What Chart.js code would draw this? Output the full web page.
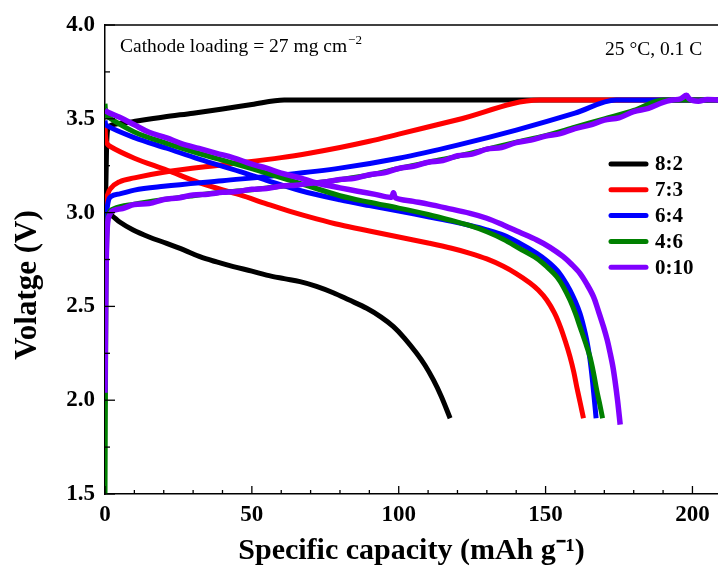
<!DOCTYPE html>
<html>
<head>
<meta charset="utf-8">
<script src="https://cdn.jsdelivr.net/npm/chart.js@4.4.1/dist/chart.umd.min.js"></script>
<style>
  html, body { margin: 0; padding: 0; background: #fff; }
  #wrap { width: 718px; height: 569px; position: relative; }
</style>
</head>
<body>
<div id="wrap"><canvas id="chart"></canvas></div>
<script>
// capacity (mAh/g) and voltage (V), charge (C) and discharge (D) for each ratio
const cap82C = [0, 0.3, 0.6, 1.2, 2.3, 9.5, 20, 30, 40, 50, 61, 209];
const v82C   = [2.95, 3.15, 3.38, 3.455, 3.467, 3.485, 3.51, 3.53, 3.552, 3.576, 3.60, 3.60];
const cap82D = [0, 0.5, 2.3, 5, 9.6, 15, 21, 27, 32.3, 38, 43.7, 50, 55, 61, 66.4, 72, 77.7, 83, 89.1, 94, 98.2, 102, 106.1, 109, 111.8, 114.5, 117.5];
const v82D   = [3.02, 3.0, 2.985, 2.95, 2.907, 2.87, 2.836, 2.80, 2.765, 2.737, 2.712, 2.688, 2.667, 2.648, 2.632, 2.607, 2.573, 2.535, 2.49, 2.443, 2.392, 2.33, 2.25, 2.185, 2.108, 2.02, 1.904];

const cap73C = [0, 0.4, 1, 2, 5, 10, 20, 40, 60, 70, 80, 90, 100, 120, 148, 209];
const v73C   = [2.9, 3.05, 3.10, 3.13, 3.165, 3.185, 3.215, 3.255, 3.293, 3.318, 3.347, 3.38, 3.418, 3.495, 3.60, 3.60];
const cap73D = [0, 0.4, 1.5, 10, 21, 32, 46, 55, 63, 72, 80, 90, 100, 110, 118, 124.3, 130, 135.6, 140, 144.7, 147.5, 150.4, 153, 155, 156.8, 158.3, 159.6, 160.6, 161.8, 162.9];
const v73D   = [3.47, 3.38, 3.355, 3.29, 3.227, 3.16, 3.094, 3.047, 3.007, 2.967, 2.935, 2.902, 2.87, 2.838, 2.81, 2.783, 2.753, 2.714, 2.675, 2.625, 2.587, 2.534, 2.465, 2.392, 2.31, 2.232, 2.15, 2.072, 1.985, 1.904];

const cap64C = [0, 0.4, 1, 2, 5, 10, 20, 40, 60, 80, 100, 120, 140, 160, 174, 209];
const v64C   = [2.7, 2.95, 3.05, 3.085, 3.10, 3.12, 3.14, 3.17, 3.20, 3.237, 3.29, 3.36, 3.44, 3.53, 3.60, 3.60];
const cap64D = [0, 0.5, 10, 21, 32, 46, 55, 66.4, 80, 90, 100, 110, 118, 124.3, 130, 135.6, 141, 147, 150.5, 153.8, 156.2, 158.3, 160.1, 161.7, 163, 164, 165, 165.7, 166.5, 167.2];
const v64D   = [3.49, 3.465, 3.40, 3.343, 3.285, 3.218, 3.172, 3.118, 3.068, 3.037, 3.008, 2.978, 2.953, 2.931, 2.908, 2.88, 2.838, 2.783, 2.742, 2.694, 2.643, 2.587, 2.527, 2.463, 2.39, 2.321, 2.23, 2.143, 2.02, 1.904];

const cap46C = [0, 0.3, 0.7, 1.5, 3, 10, 20, 30, 40, 50, 60, 70, 80, 90, 100, 110, 120, 130, 140, 150, 160, 170, 180, 190, 209];
const v46C   = [1.50, 2.50, 2.90, 3.0, 3.02, 3.045, 3.07, 3.09, 3.108, 3.122, 3.14, 3.155, 3.175, 3.20, 3.235, 3.268, 3.30, 3.338, 3.375, 3.41, 3.455, 3.50, 3.545, 3.60, 3.60];
const cap46D = [0, 0.3, 1, 10, 21, 32, 43.7, 55, 66.4, 80, 90, 100, 110, 118, 124.3, 130, 135.6, 141, 147, 150.5, 153.8, 156.2, 158.3, 160.1, 161.7, 163.5, 165.1, 166.4, 167.4, 168.5, 169.4];
const v46D   = [3.58, 3.53, 3.51, 3.43, 3.369, 3.315, 3.263, 3.21, 3.156, 3.09, 3.055, 3.024, 2.99, 2.958, 2.93, 2.898, 2.858, 2.81, 2.756, 2.71, 2.658, 2.60, 2.534, 2.465, 2.392, 2.31, 2.232, 2.14, 2.054, 1.975, 1.904];

const cap010C = [0, 0.3, 0.7, 1.5, 3, 6, 10, 15, 20, 25, 30, 35, 40, 45, 50, 55, 60, 65, 70, 75, 80, 85, 90, 95, 100, 105, 110, 115, 120, 125, 130, 135, 140, 145, 150, 155, 160, 165, 170, 175, 180, 185, 190, 193, 196, 198, 199, 202, 205, 209];
const v010C   = [2.04, 2.60, 2.90, 2.985, 3.012, 3.022, 3.043, 3.048, 3.070, 3.078, 3.094, 3.098, 3.108, 3.113, 3.124, 3.128, 3.142, 3.146, 3.157, 3.163, 3.177, 3.183, 3.202, 3.212, 3.235, 3.247, 3.268, 3.277, 3.303, 3.312, 3.338, 3.347, 3.373, 3.386, 3.408, 3.421, 3.448, 3.466, 3.493, 3.505, 3.538, 3.556, 3.588, 3.60, 3.607, 3.625, 3.605, 3.594, 3.603, 3.60];
const cap010D = [0, 1, 5, 10, 15, 21, 26, 32, 38, 43.7, 50, 55, 60, 66.4, 72, 80, 86, 92, 97.5, 98.2, 99, 105, 110, 116, 124.3, 130, 135.6, 141, 147, 151.5, 156, 159, 161.7, 164, 166.3, 168.1, 169.7, 171, 172, 172.9, 173.6, 174.5, 175.4];
const v010D   = [3.545, 3.535, 3.508, 3.468, 3.428, 3.398, 3.368, 3.342, 3.316, 3.292, 3.258, 3.237, 3.210, 3.185, 3.158, 3.132, 3.114, 3.097, 3.082, 3.106, 3.078, 3.06, 3.045, 3.025, 2.996, 2.97, 2.934, 2.896, 2.854, 2.815, 2.765, 2.722, 2.676, 2.62, 2.552, 2.47, 2.392, 2.32, 2.25, 2.18, 2.108, 2.0, 1.87];

const ratioLabels = ["8:2", "7:3", "6:4", "4:6", "0:10"];
const ratioColors = ["#000000", "#ff0000", "#0000ff", "#008000", "#8000ff"];

const xTicks = [0, 50, 100, 150, 200];
const yTicks = [1.5, 2.0, 2.5, 3.0, 3.5, 4.0];
const xMinorStep = 10;
const yMinorStep = 0.25;

function pts(xs, ys) {
    return xs.map((x, i) => ({ x: x, y: ys[i] }));
}

const curves = [
    [cap82C, v82C, cap82D, v82D],
    [cap73C, v73C, cap73D, v73D],
    [cap64C, v64C, cap64D, v64D],
    [cap46C, v46C, cap46D, v46D],
    [cap010C, v010C, cap010D, v010D]
];

const datasets = [];
curves.forEach((c, i) => {
    const common = {
        borderColor: ratioColors[i],
        backgroundColor: ratioColors[i],
        borderWidth: i === 4 ? 5.5 : 5,
        pointRadius: 0,
        order: 5 - i, // black drawn first, purple on top
        fill: false
    };
    // charge: monotone keeps the 3.6 V plateau flat
    datasets.push(Object.assign({ label: ratioLabels[i], data: pts(c[0], c[1]), legendItem: true, cubicInterpolationMode: "monotone" }, common));
    // discharge: smoother bezier through the knee
    datasets.push(Object.assign({ label: ratioLabels[i] + " discharge", data: pts(c[2], c[3]), tension: 0.35 }, common));
});

// ticks pointing inward, plus the top frame line
const innerTicks = {
    id: "innerTicks",
    afterDraw(chart) {
        const ctx = chart.ctx;
        const area = chart.chartArea;
        const xs = chart.scales.x;
        const ys = chart.scales.y;
        ctx.save();
        ctx.strokeStyle = "#000";
        ctx.lineWidth = 1.5;
        ctx.beginPath();
        ctx.moveTo(area.left, area.top);
        ctx.lineTo(area.right, area.top);
        ctx.stroke();
        ctx.lineWidth = 1.3;
        for (let v = xs.min; v <= xs.max + 1e-9; v += xMinorStep) {
            const px = xs.getPixelForValue(v);
            const major = xTicks.includes(Math.round(v));
            ctx.beginPath();
            ctx.moveTo(px, area.bottom);
            ctx.lineTo(px, area.bottom - (major ? 8 : 4));
            ctx.stroke();
        }
        for (let v = ys.min; v <= ys.max + 1e-9; v += yMinorStep) {
            const py = ys.getPixelForValue(v);
            const major = Math.abs(v * 2 - Math.round(v * 2)) < 1e-6;
            ctx.beginPath();
            ctx.moveTo(area.left, py);
            ctx.lineTo(area.left + (major ? 10 : 5), py);
            ctx.stroke();
        }
        ctx.restore();
    }
};

// legend, y title and the two notes inside the plot
const notes = {
    id: "notes",
    afterDraw(chart) {
        const ctx = chart.ctx;
        ctx.save();
        ctx.fillStyle = "#000";
        ctx.textBaseline = "alphabetic";
        ctx.font = "19.5px 'Liberation Serif'";
        ctx.fillText("Cathode loading = 27 mg cm", 120, 52);
        const w = ctx.measureText("Cathode loading = 27 mg cm").width;
        ctx.font = "13px 'Liberation Serif'";
        ctx.fillText("\u22122", 120 + w + 1, 44);
        ctx.font = "19.5px 'Liberation Serif'";
        ctx.fillText("25 \u00B0C, 0.1 C", 605, 55);

        ctx.save();
        ctx.translate(28, 285);
        ctx.rotate(-Math.PI / 2);
        ctx.font = "bold 31px 'Liberation Serif'";
        ctx.textAlign = "center";
        ctx.textBaseline = "middle";
        ctx.fillText("Volatge (V)", 0, 0);
        ctx.restore();

        let row = 0;
        chart.data.datasets.forEach((ds) => {
            if (!ds.legendItem) return;
            const y = 164 + row * 25.8;
            ctx.strokeStyle = ds.borderColor;
            ctx.lineWidth = 5;
            ctx.lineCap = "round";
            ctx.beginPath();
            ctx.moveTo(611, y);
            ctx.lineTo(646, y);
            ctx.stroke();
            ctx.font = "bold 21px 'Liberation Serif'";
            ctx.textBaseline = "middle";
            ctx.fillText(ds.label, 655, y + 1);
            row++;
        });
        ctx.restore();
    }
};

const tickFont = { family: "'Liberation Serif'", size: 23, weight: "bold" };
const titleFont = { family: "'Liberation Serif'", size: 30, weight: "bold" };

new Chart(document.getElementById("chart"), {
    type: "line",
    data: { datasets: datasets },
    options: {
        responsive: true,
        maintainAspectRatio: false,
        animation: false,
        layout: { padding: { top: 25, right: 0, left: 0, bottom: 0 } },
        plugins: {
            legend: { display: false },
            tooltip: { enabled: false }
        },
        scales: {
            x: {
                type: "linear",
                min: 0,
                max: 208.7,
                afterBuildTicks: (scale) => { scale.ticks = xTicks.map(v => ({ value: v })); },
                afterFit: (scale) => { scale.height = 75; },
                grid: { display: false, drawTicks: false },
                border: { display: true, color: "#000", width: 1.5 },
                ticks: { color: "#000", font: tickFont, padding: 7, maxRotation: 0 },
                title: {
                    display: true,
                    text: "Specific capacity (mAh g\u207B\u00B9)",
                    color: "#000",
                    font: titleFont,
                    padding: { top: 0, bottom: 0 }
                }
            },
            y: {
                type: "linear",
                min: 1.5,
                max: 4.0,
                afterBuildTicks: (scale) => { scale.ticks = yTicks.map(v => ({ value: v })); },
                afterFit: (scale) => { scale.width = 105; },
                grid: { display: false, drawTicks: false },
                border: { display: true, color: "#000", width: 1.5 },
                ticks: {
                    color: "#000",
                    font: tickFont,
                    padding: 10,
                    callback: (v) => v.toFixed(1)
                },
                title: { display: false }
            }
        }
    },
    plugins: [innerTicks, notes]
});
</script>
</body>
</html>
